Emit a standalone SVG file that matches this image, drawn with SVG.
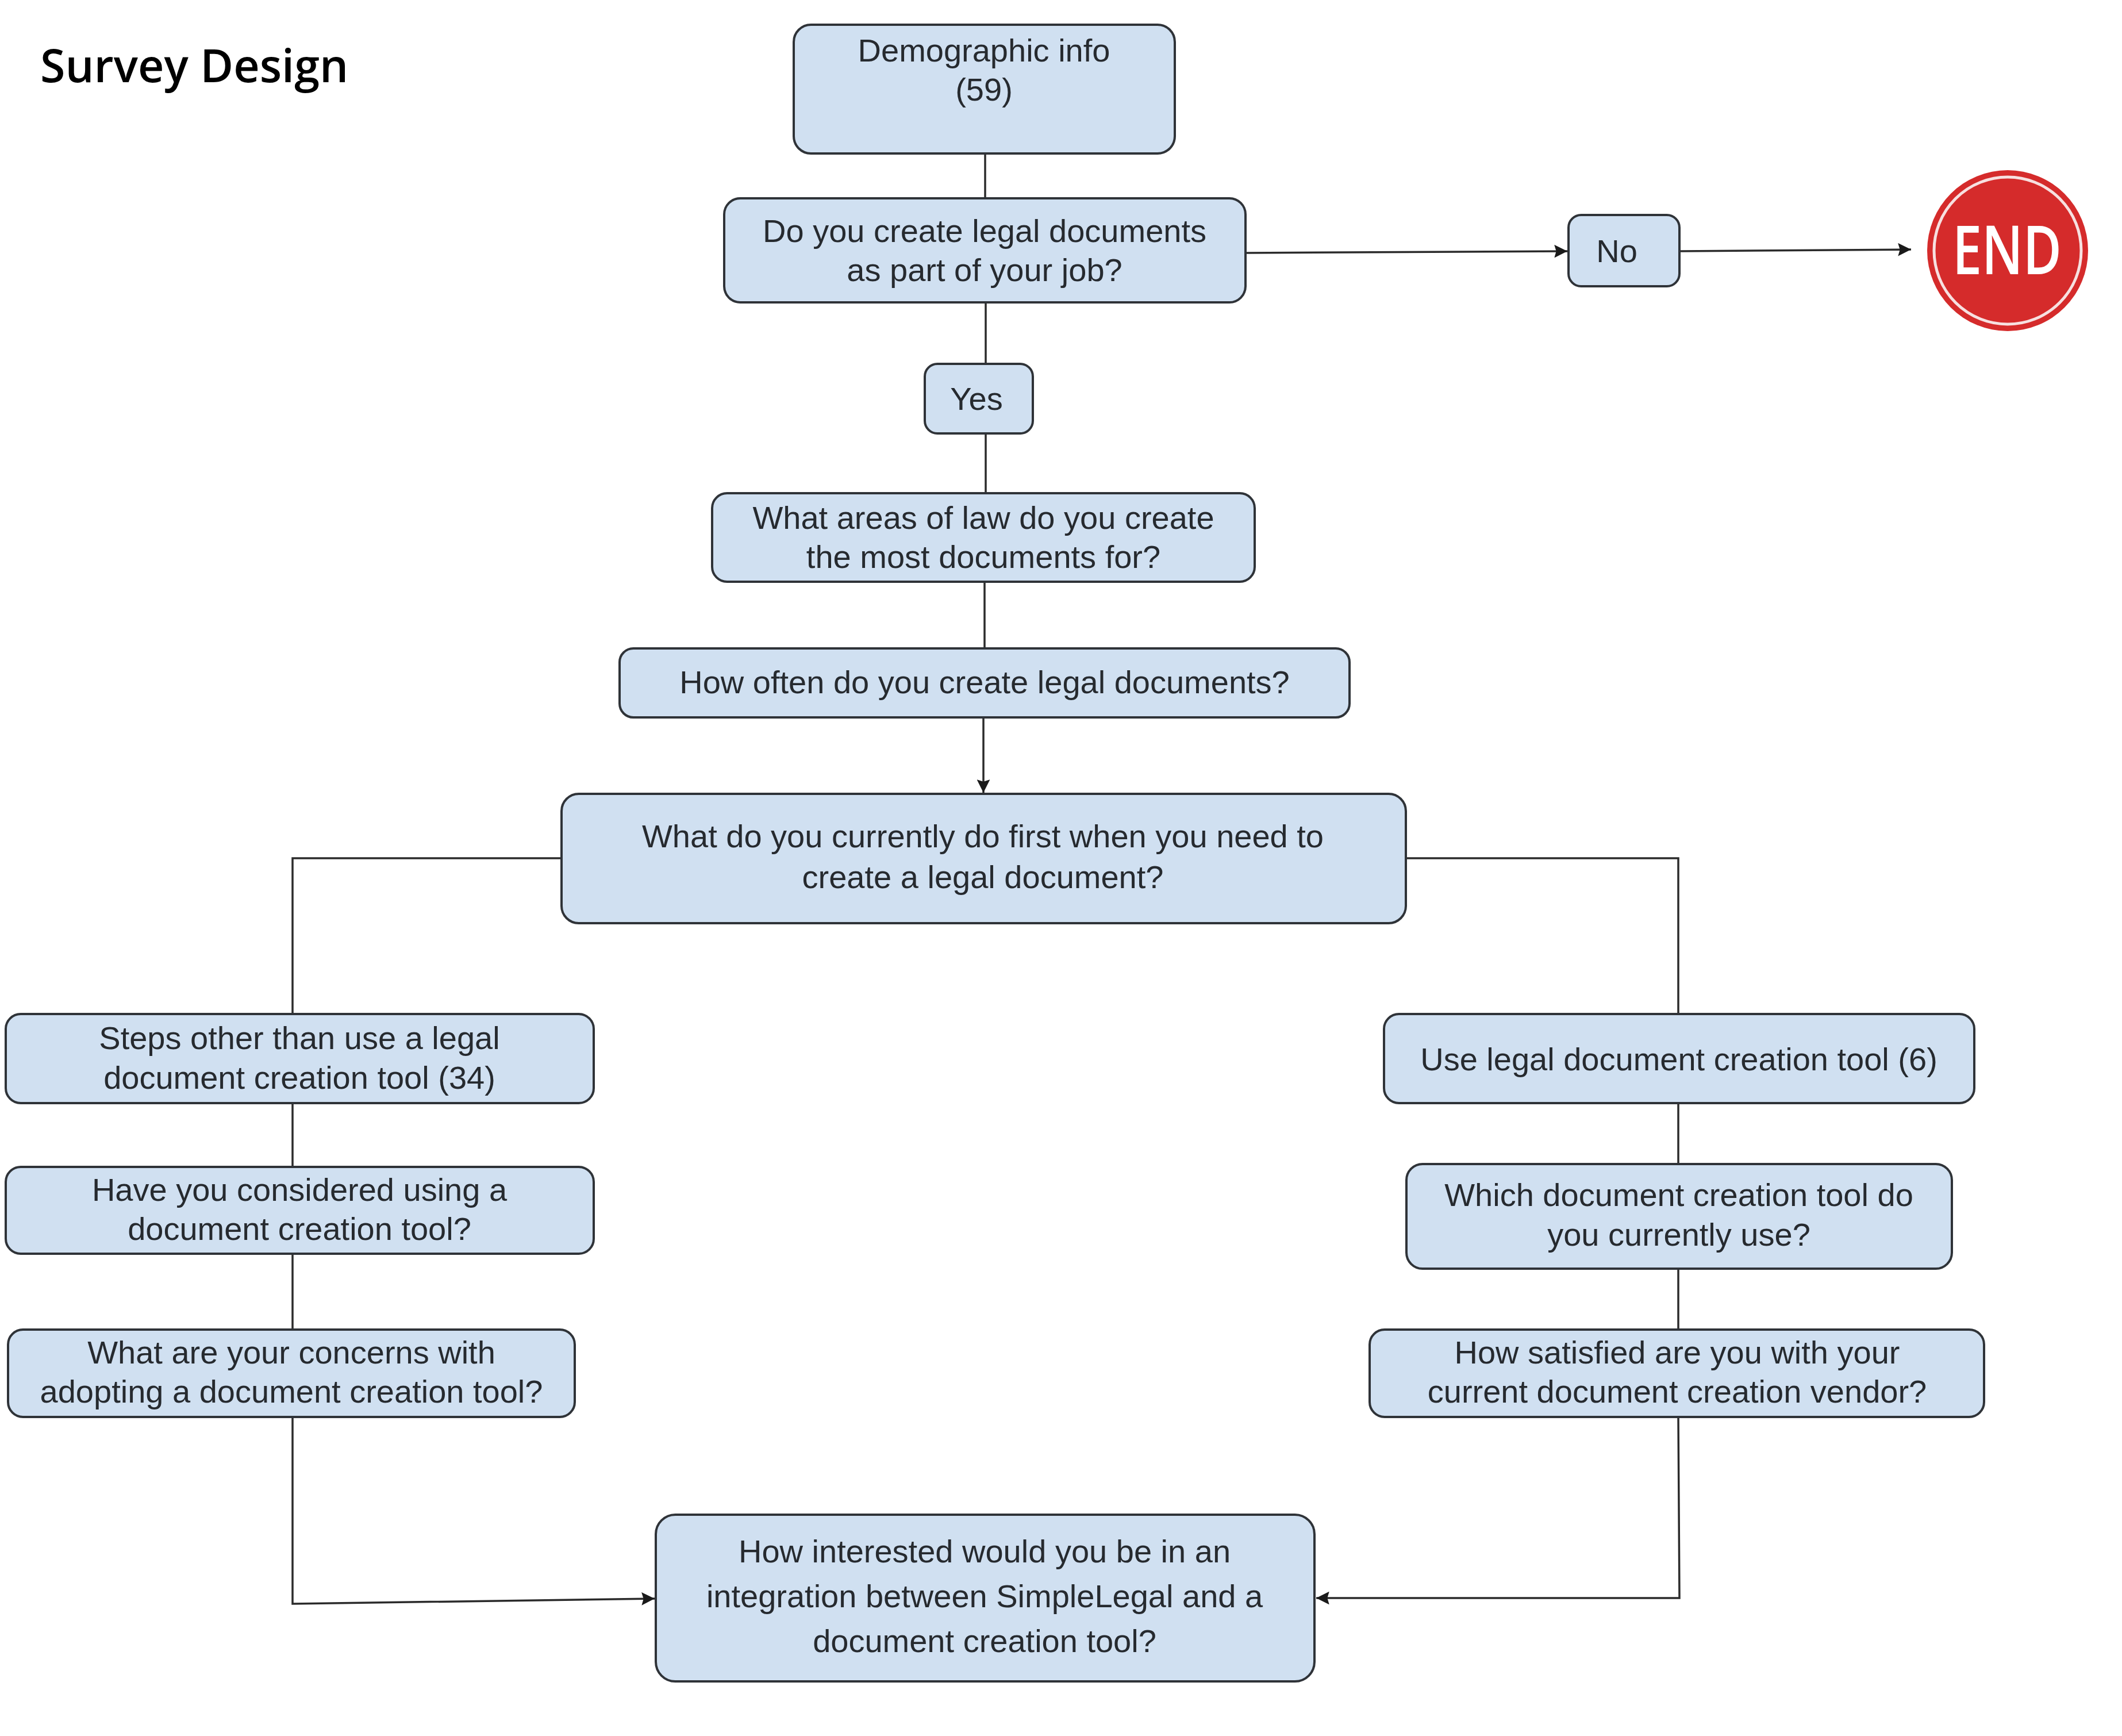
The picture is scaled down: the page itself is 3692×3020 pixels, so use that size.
<svg xmlns="http://www.w3.org/2000/svg" width="3692" height="3020" viewBox="0 0 3692 3020">
<defs>
<style>
.box{fill:#d0e0f1;stroke:#2f3338;stroke-width:4}
.t{font-family:"Liberation Sans",Arial,sans-serif;font-size:56px;fill:#262a2f;text-anchor:middle}
.c{fill:none;stroke:#2b2b2b;stroke-width:3.5}
.title{font-family:"Open Sans","Noto Sans",sans-serif;font-size:79px;font-weight:600;fill:#000}
</style>
<marker id="ah" viewBox="0 0 10 10" refX="10" refY="5" markerWidth="7.5" markerHeight="6.5" markerUnits="strokeWidth" orient="auto">
<path d="M0,0 L10,5 L0,10 L1.5,5 z" fill="#1a1a1a"/>
</marker>
</defs>
<rect width="3692" height="3020" fill="#ffffff"/>
<text class="title" x="70" y="143">Survey Design</text>

<g id="connectors">
<line class="c" x1="1714" y1="267" x2="1714" y2="345"/>
<line class="c" x1="1715" y1="526" x2="1715" y2="633"/>
<line class="c" x1="1715" y1="754" x2="1715" y2="858"/>
<line class="c" x1="1713" y1="1012" x2="1713" y2="1128"/>
<line class="c" x1="1711" y1="1248" x2="1711" y2="1379" marker-end="url(#ah)"/>
<line class="c" x1="2167" y1="440" x2="2727" y2="437" marker-end="url(#ah)"/>
<line class="c" x1="2922" y1="437" x2="3325" y2="434" marker-end="url(#ah)"/>
<polyline class="c" points="977,1493 509,1493 509,1764"/>
<line class="c" x1="509" y1="1919" x2="509" y2="2030"/>
<line class="c" x1="509" y1="2181" x2="509" y2="2313"/>
<polyline class="c" points="509,2465 509,2790 1139,2781" marker-end="url(#ah)"/>
<polyline class="c" points="2446,1493 2920,1493 2920,1764"/>
<line class="c" x1="2920" y1="1919" x2="2920" y2="2025"/>
<line class="c" x1="2920" y1="2207" x2="2920" y2="2313"/>
<polyline class="c" points="2920,2465 2922,2780 2290,2780" marker-end="url(#ah)"/>
</g>

<g id="n-demographic">
<rect class="box" x="1381" y="43" width="663" height="224" rx="30"/>
<text class="t" x="1712" y="107">Demographic info</text>
<text class="t" x="1712" y="175">(59)</text>
</g>
<g id="n-create">
<rect class="box" x="1260" y="345" width="907" height="181" rx="28"/>
<text class="t" x="1713" y="421">Do you create legal documents</text>
<text class="t" x="1713" y="489">as part of your job?</text>
</g>
<g id="n-no">
<rect class="box" x="2729" y="374" width="193" height="124" rx="22"/>
<text class="t" x="2813" y="456">No</text>
</g>
<g id="n-end">
<circle cx="3493" cy="436" r="140" fill="#d52b2b"/>
<circle cx="3493" cy="436" r="128" fill="none" stroke="#f7e0e0" stroke-width="5"/>
<text x="3492" y="477" font-family="Open Sans,Noto Sans,sans-serif" font-weight="600" font-size="118" fill="#ffffff" text-anchor="middle" textLength="190" lengthAdjust="spacingAndGlyphs">END</text>
</g>
<g id="n-yes">
<rect class="box" x="1609" y="633" width="188" height="121" rx="22"/>
<text class="t" x="1699" y="713">Yes</text>
</g>
<g id="n-areas">
<rect class="box" x="1239" y="858" width="944" height="154" rx="26"/>
<text class="t" x="1711" y="920">What areas of law do you create</text>
<text class="t" x="1711" y="988">the most documents for?</text>
</g>
<g id="n-often">
<rect class="box" x="1078" y="1128" width="1270" height="120" rx="24"/>
<text class="t" x="1713" y="1206">How often do you create legal documents?</text>
</g>
<g id="n-first">
<rect class="box" x="977" y="1381" width="1469" height="225" rx="30"/>
<text class="t" x="1710" y="1474">What do you currently do first when you need to</text>
<text class="t" x="1710" y="1545">create a legal document?</text>
</g>
<g id="n-steps">
<rect class="box" x="10" y="1764" width="1023" height="155" rx="26"/>
<text class="t" x="521" y="1825">Steps other than use a legal</text>
<text class="t" x="521" y="1894">document creation tool (34)</text>
</g>
<g id="n-considered">
<rect class="box" x="10" y="2030" width="1023" height="151" rx="26"/>
<text class="t" x="521" y="2089">Have you considered using a</text>
<text class="t" x="521" y="2157">document creation tool?</text>
</g>
<g id="n-concerns">
<rect class="box" x="14" y="2313" width="986" height="152" rx="26"/>
<text class="t" x="507" y="2372">What are your concerns with</text>
<text class="t" x="507" y="2440">adopting a document creation tool?</text>
</g>
<g id="n-use">
<rect class="box" x="2408" y="1764" width="1027" height="155" rx="26"/>
<text class="t" x="2921" y="1862">Use legal document creation tool (6)</text>
</g>
<g id="n-which">
<rect class="box" x="2447" y="2025" width="949" height="182" rx="28"/>
<text class="t" x="2921" y="2098">Which document creation tool do</text>
<text class="t" x="2921" y="2167">you currently use?</text>
</g>
<g id="n-satisfied">
<rect class="box" x="2383" y="2313" width="1069" height="152" rx="26"/>
<text class="t" x="2918" y="2372">How satisfied are you with your</text>
<text class="t" x="2918" y="2440">current document creation vendor?</text>
</g>
<g id="n-interested">
<rect class="box" x="1141" y="2635" width="1146" height="290" rx="34"/>
<text class="t" x="1713" y="2718">How interested would you be in an</text>
<text class="t" x="1713" y="2796">integration between SimpleLegal and a</text>
<text class="t" x="1713" y="2874">document creation tool?</text>
</g>
</svg>
